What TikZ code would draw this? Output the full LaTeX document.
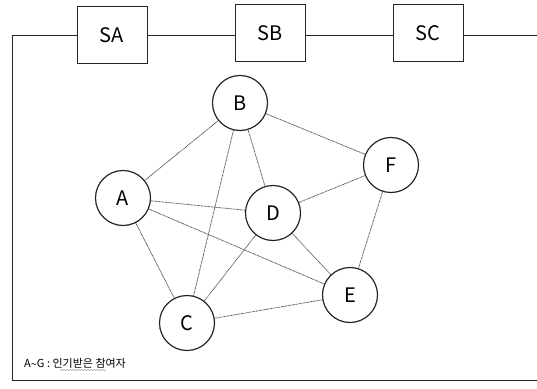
\documentclass[tikz,border=0pt]{standalone}
\usepackage{fontspec}
\setmainfont{Noto Sans CJK KR}
\usetikzlibrary{decorations.pathmorphing}
\begin{document}
\begin{tikzpicture}[x=1pt,y=-1pt,
  frameline/.style={draw=black!85,line width=0.9pt},
  sbox/.style={draw=black!85,line width=1pt,fill=white,minimum width=70pt,minimum height=57pt,inner sep=0pt,font=\fontsize{20}{22}\selectfont},
  person/.style={circle,draw=black!85,line width=1.2pt,fill=white,minimum size=55pt,inner sep=0pt,font=\fontsize{20}{22}\selectfont},
  link/.style={draw=black!70,line width=0.8pt,dash pattern=on 0.8pt off 0.6pt}
]
\useasboundingbox (0,0) rectangle (537,388);
% frame
\coordinate (tl) at (12,35);
\coordinate (tr) at (537,35);
\coordinate (bl) at (12,380);
\coordinate (br) at (537,380);
\draw[frameline] (tr) -- (tl) -- (bl) -- (br);
\node[sbox] (SA) at (112,35) {SA};
\node[sbox] (SB) at (270,33) {SB};
\node[sbox] (SC) at (428,33) {SC};
% people
\coordinate (pA) at (123,198);
\coordinate (pB) at (240,103);
\coordinate (pC) at (187,323);
\coordinate (pD) at (273,213);
\coordinate (pE) at (350,295);
\coordinate (pF) at (391,165);
\path[link] (pA) -- (pB) (pA) -- (pD) (pA) -- (pE) (pA) -- (pC)
  (pB) -- (pD) (pB) -- (pC) (pB) -- (pF)
  (pD) -- (pF) (pD) -- (pE) (pD) -- (pC)
  (pC) -- (pE) (pF) -- (pE);
\node[person] (A) at (pA) {A};
\node[person] (B) at (pB) {B};
\node[person] (C) at (pC) {C};
\node[person] (D) at (pD) {D};
\node[person] (E) at (pE) {E};
\node[person] (F) at (pF) {F};
% legend
\node[anchor=west,inner sep=0pt,font=\fontsize{11}{13}\selectfont] (legend) at (24,363) {A\raisebox{-0.15ex}{\textasciitilde}G : 인기받은 참여자};
\coordinate (u1) at (60,370);
\coordinate (u2) at (106,370);
\draw[black!35,line width=0.5pt,decorate,decoration={snake,amplitude=0.8pt,segment length=3pt}] (u1) -- (u2);
\end{tikzpicture}
\end{document}
